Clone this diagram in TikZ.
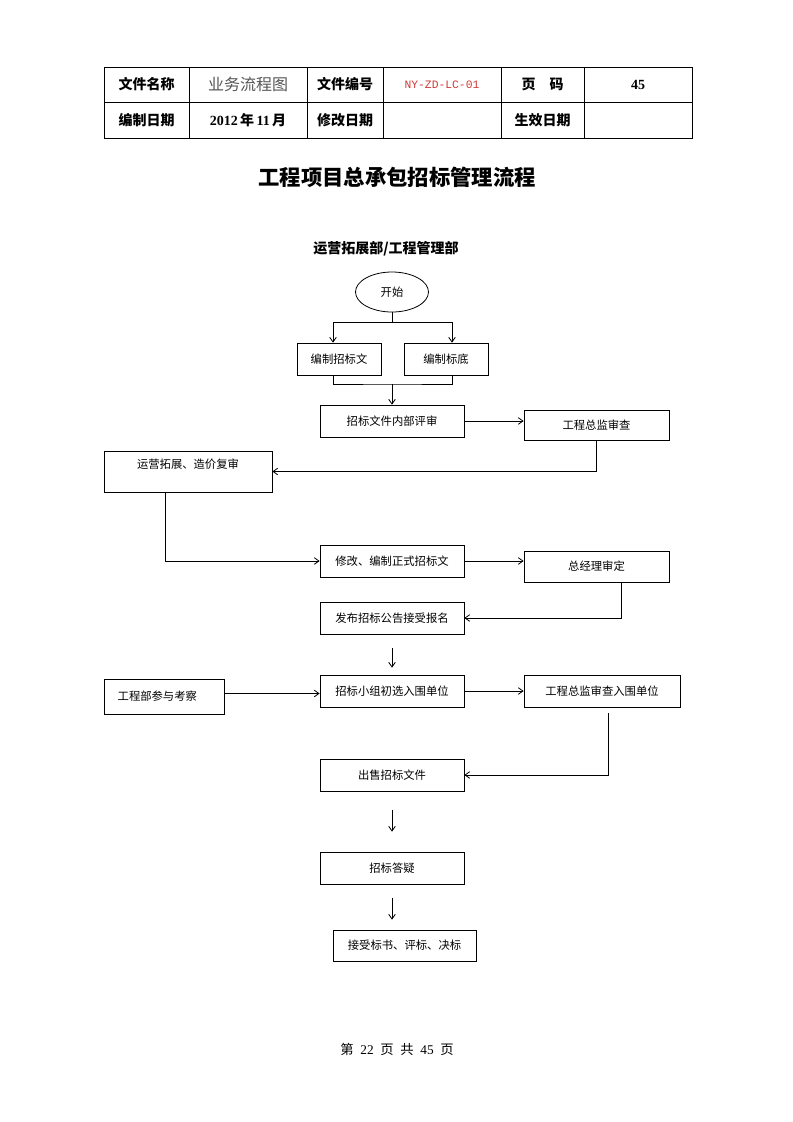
\documentclass[tikz,border=0pt]{standalone}
\usepackage{fontspec}
\setmainfont{Liberation Serif}
\newfontfamily\cjk{Noto Sans CJK SC}
\newfontfamily\monof{Liberation Mono}
\usetikzlibrary{arrows.meta,shapes.geometric}
\newdimen\pxu \pxu=0.75pt
\definecolor{codered}{HTML}{D03A3A}
\definecolor{grayt}{HTML}{555555}
\begin{document}
\begin{tikzpicture}[x=0.75pt,y=-0.75pt,
  line width=0.6pt,
  arr/.style={-{Straight Barb[length=3.5pt,width=5pt]}},
  hdr/.style={font=\cjk\bfseries\fontsize{10.5}{12}\selectfont, inner sep=0},
  box/.style={draw, rectangle, inner sep=0, font=\cjk\fontsize{8.5}{10}\selectfont},
  ell/.style={draw, ellipse, inner sep=0, font=\cjk\fontsize{8.5}{10}\selectfont}]
\useasboundingbox (0,0) rectangle (793,1122);
\fill[white] (0,0) rectangle (793,1122);

% header table
\draw (104,67) rectangle (692,138);
\draw (104,102) -- (692,102);
\foreach \xx in {189,307,383,501,584} \draw (\xx,67) -- (\xx,138);
\node[hdr] (h11) at (146.5,84.5) {文件名称};
\node[inner sep=0, font=\cjk\fontsize{12}{14}\selectfont, text=grayt] (h12) at (248,84.5) {业务流程图};
\node[hdr] (h13) at (345,84.5) {文件编号};
\node[inner sep=0, font=\monof\fontsize{8.5}{10}\selectfont, text=codered] (h14) at (442,84.5) {NY-ZD-LC-01};
\node[hdr] (h15) at (542.5,84.5) {页\hspace{1em}码};
\node[hdr, font=\bfseries\fontsize{10.5}{12}\selectfont] (h16) at (638,84.5) {45};
\node[hdr] (h21) at (146.5,120) {编制日期};
\node[hdr, font=\bfseries\fontsize{10.5}{12}\selectfont] (h22) at (248,120) {2012\,{\cjk 年}\,11\,{\cjk 月}};
\node[hdr] (h23) at (345,120) {修改日期};
\node[hdr] (h25) at (542.5,120) {生效日期};

% titles
\node[inner sep=0, font=\cjk\bfseries\fontsize{16}{18}\selectfont] (title) at (397,177) {工程项目总承包招标管理流程};
\node[inner sep=0, font=\cjk\bfseries\fontsize{10.5}{12}\selectfont] (sub) at (386,249) {运营拓展部/工程管理部};

% flow nodes
\node[ell, minimum width=73\pxu, minimum height=40\pxu] (start) at (392,292) {开始};
\node[box, minimum width=84\pxu, minimum height=32\pxu] (b1) at (339,359) {编制招标文};
\node[box, minimum width=84\pxu, minimum height=32\pxu] (b2) at (446,359) {编制标底};
\node[box, minimum width=144\pxu, minimum height=32\pxu] (b3) at (392,421) {招标文件内部评审};
\node[box, minimum width=145\pxu, minimum height=30\pxu] (b4) at (596.5,425) {工程总监审查};
\node[box, minimum width=168\pxu, minimum height=41\pxu,
  label={[font=\cjk\fontsize{8.5}{10}\selectfont, yshift=5.5pt]center:运营拓展、造价复审}] (b5) at (188,471.5) {};
\node[box, minimum width=144\pxu, minimum height=32\pxu] (b6) at (392,561) {修改、编制正式招标文};
\node[box, minimum width=145\pxu, minimum height=31\pxu] (b7) at (596.5,566.5) {总经理审定};
\node[box, minimum width=144\pxu, minimum height=32\pxu] (b8) at (392,618) {发布招标公告接受报名};
\node[box, minimum width=144\pxu, minimum height=32\pxu] (b9) at (392,691) {招标小组初选入围单位};
\node[box, minimum width=120\pxu, minimum height=35\pxu,
  label={[font=\cjk\fontsize{8.5}{10}\selectfont, xshift=-5pt]center:工程部参与考察}] (b10) at (164,696.5) {};
\node[box, minimum width=156\pxu, minimum height=32\pxu] (b11) at (602,691) {工程总监审查入围单位};
\node[box, minimum width=144\pxu, minimum height=32\pxu] (b12) at (392,775) {出售招标文件};
\node[box, minimum width=144\pxu, minimum height=32\pxu] (b13) at (392,868) {招标答疑};
\node[box, minimum width=143\pxu, minimum height=31\pxu] (b14) at (404.5,945.5) {接受标书、评标、决标};

% connectors
\coordinate (s1) at (392,322);
\draw (start.south) -- (s1);
\draw[arr] (s1) -| ([xshift=-6\pxu]b1.north);
\draw[arr] (s1) -| ([xshift=6\pxu]b2.north);
\coordinate (m1) at (392,384);
\draw ([xshift=-6\pxu]b1.south) |- (m1) -| ([xshift=6\pxu]b2.south);
\draw[arr] (m1) -- (b3.north);
\draw[arr] (b3.east) -- (b3.east -| b4.west);
\draw[arr] (b4.south) |- (b5.east);
\draw[arr] ([xshift=-23\pxu]b5.south) |- (b6.west);
\draw[arr] (b6.east) -- (b6.east -| b7.west);
\draw[arr] ([xshift=24.5\pxu]b7.south) |- (b8.east);
\draw[arr] ([yshift=-14\pxu]b8.south) -- ([yshift=7\pxu]b9.north);
\draw[arr] ([yshift=3\pxu]b10.east) -- ([yshift=3\pxu]b10.east -| b9.west);
\draw[arr] (b9.east) -- (b9.east -| b11.west);
\draw[arr] ([xshift=6\pxu,yshift=-6\pxu]b11.south) |- (b12.east);
\draw[arr] ([yshift=-19\pxu]b12.south) -- ([yshift=20\pxu]b13.north);
\draw[arr] ([yshift=-14\pxu]b13.south) -- ([yshift=10\pxu]b13.south |- b14.north);

% footer
\node[inner sep=0, font=\fontsize{10}{12}\selectfont] (foot) at (397,1049) {{\cjk 第}\enspace22\enspace{\cjk 页}\enspace{\cjk 共}\enspace45\enspace{\cjk 页}};
\end{tikzpicture}
\end{document}
